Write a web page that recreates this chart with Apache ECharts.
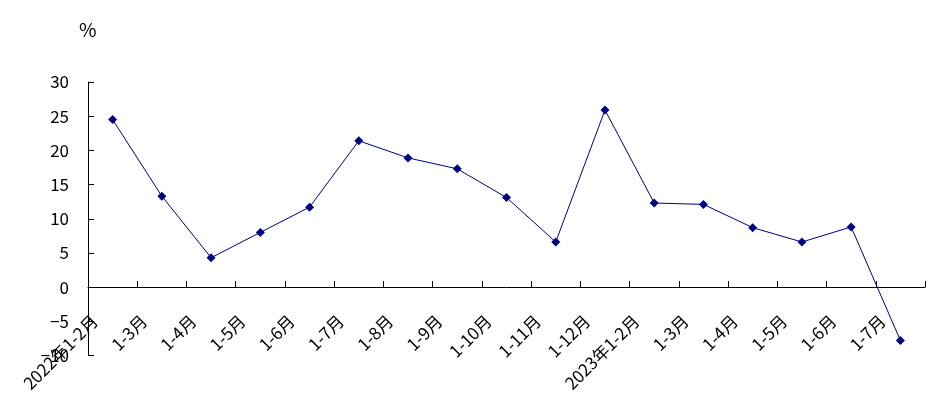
<!DOCTYPE html>
<html>
<head>
<meta charset="utf-8">
<script src="https://cdn.jsdelivr.net/npm/echarts@6/dist/echarts.min.js"></script>
<style>
html,body{margin:0;padding:0;background:#fff;}
#chart{width:939px;height:418px;}
</style>
</head>
<body>
<div id="chart"></div>
<script>
const categories = ['2022年1-2月','1-3月','1-4月','1-5月','1-6月','1-7月','1-8月','1-9月','1-10月','1-11月','1-12月','2023年1-2月','1-3月','1-4月','1-5月','1-6月','1-7月'];
const values = [24.5, 13.3, 4.3, 8.0, 11.7, 21.4, 18.9, 17.3, 13.1, 6.6, 25.9, 12.3, 12.1, 8.7, 6.6, 8.8, -7.8];
const yTickLabels = ['\u221210', '\u22125', '0', '5', '10', '15', '20', '25', '30'];
const yMin = -10, yMax = 30, yStep = 5;
const unitLabel = '%';

const FONT = '"Noto Sans CJK SC", "DejaVu Sans", sans-serif';
const chart = echarts.init(document.getElementById('chart'));
chart.setOption({
  animation: false,
  backgroundColor: '#fff',
  grid: [
    {left: 88, right: 14, top: 82, bottom: 62.5},
    {left: 70, right: 32, top: 82, bottom: 100}
  ],
  xAxis: [
    {
      type: 'category', gridIndex: 0, data: categories, boundaryGap: true,
      axisLine: {onZero: true, lineStyle: {color: '#000', width: 1}},
      axisTick: {show: true, inside: true, length: 6, interval: 0, lineStyle: {color: '#000'}},
      axisLabel: {show: false},
      splitLine: {show: false}
    },
    {
      type: 'category', gridIndex: 1, data: categories, boundaryGap: true,
      axisLine: {show: false}, axisTick: {show: false}, splitLine: {show: false},
      axisLabel: {interval: 0, rotate: 45, margin: 0, fontSize: 17, color: '#000', fontFamily: FONT}
    }
  ],
  yAxis: [
    {
      type: 'value', gridIndex: 0, min: yMin, max: yMax, interval: yStep,
      axisLine: {show: true, lineStyle: {color: '#000', width: 1}},
      axisTick: {show: true, inside: true, length: 6, lineStyle: {color: '#000'}},
      splitLine: {show: false},
      axisLabel: {
        margin: 19, fontSize: 17, color: '#000', fontFamily: FONT,
        formatter: function (v) { return yTickLabels[Math.round((v - yMin) / yStep)]; }
      }
    },
    {type: 'value', gridIndex: 1, show: false, min: 0, max: 1}
  ],
  series: [{
    type: 'line', xAxisIndex: 0, yAxisIndex: 0, data: values,
    symbol: 'diamond', symbolSize: 9,
    lineStyle: {color: '#000080', width: 1},
    itemStyle: {color: '#000080'}
  }],
  graphic: [{
    type: 'text', left: 79, top: 20,
    style: {text: unitLabel, fontSize: 19, fill: '#000', fontFamily: FONT}
  }]
});
</script>
</body>
</html>
